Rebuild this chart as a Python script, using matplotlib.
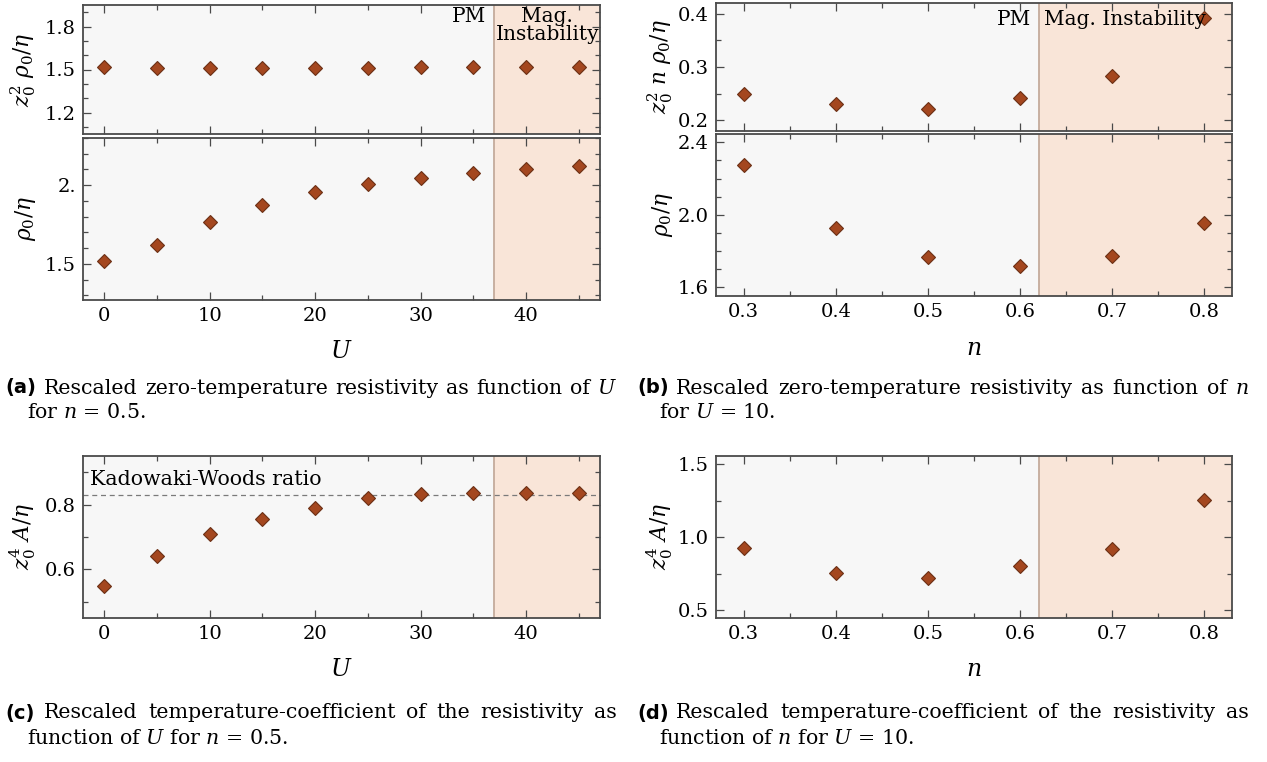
import numpy as np
import matplotlib
matplotlib.use("Agg")
import matplotlib.pyplot as plt
from matplotlib.ticker import MultipleLocator, FixedLocator, FixedFormatter

# data
U = [0, 5, 10, 15, 20, 25, 30, 35, 40, 45]
zrho_U = [1.52, 1.51, 1.51, 1.51, 1.51, 1.51, 1.52, 1.52, 1.52, 1.52]
rho_U = [1.517, 1.617, 1.767, 1.877, 1.956, 2.008, 2.047, 2.076, 2.100, 2.119]
A_U = [0.548, 0.640, 0.710, 0.757, 0.790, 0.821, 0.834, 0.835, 0.836, 0.836]

n = [0.3, 0.4, 0.5, 0.6, 0.7, 0.8]
zrho_n = [0.250, 0.231, 0.221, 0.241, 0.283, 0.391]
rho_n = [2.275, 1.926, 1.767, 1.717, 1.771, 1.952]
A_n = [0.927, 0.757, 0.720, 0.802, 0.920, 1.252]

U_boundary = 37
n_boundary = 0.62
kw_ratio = 0.83

captions = {
    "a": ("Rescaled zero-temperature resistivity as function of $U$", "for $n$ = 0.5."),
    "b": ("Rescaled zero-temperature resistivity as function of $n$", "for $U$ = 10."),
    "c": ("Rescaled temperature-coefficient of the resistivity as", "function of $U$ for $n$ = 0.5."),
    "d": ("Rescaled temperature-coefficient of the resistivity as", "function of $n$ for $U$ = 10."),
}

plt.rcParams["font.family"] = "DejaVu Serif"
plt.rcParams["mathtext.fontset"] = "dejavuserif"

W, H = 1267, 762
fig = plt.figure(figsize=(W / 100, H / 100), dpi=100)

PM_BG = "#f7f7f7"
MAG_BG = "#f9e5d8"
SPINE = "#4a4a4a"
FILL = "#a4471f"
EDGE = "#6b3015"
TICK_FS = 14
YLAB_FS = 15.5
XLAB_FS = 17
CAP_FS = 14.8


def px_axes(left, top, right, bottom):
    return fig.add_axes([left / W, 1 - bottom / H, (right - left) / W, (bottom - top) / H])


def style(ax, xlim, ylim, boundary, xmaj, xmin, ymaj, ymin, xlabels=True, ylab_x=-0.087):
    ax.set_facecolor(PM_BG)
    ax.set_xlim(*xlim)
    ax.set_ylim(*ylim)
    ax.axvspan(boundary, xlim[1], color=MAG_BG, lw=0, zorder=0)
    ax.axvline(boundary, color="#c4ab9c", lw=1.3, zorder=1)
    ax.xaxis.set_major_locator(MultipleLocator(xmaj))
    ax.xaxis.set_minor_locator(MultipleLocator(xmin))
    if ymaj is not None:
        ax.yaxis.set_major_locator(MultipleLocator(ymaj))
    ax.yaxis.set_minor_locator(MultipleLocator(ymin))
    ax.tick_params(which="both", direction="in", top=True, right=True,
                   color=SPINE, labelsize=TICK_FS, width=0.9)
    ax.tick_params(which="major", length=5.5, pad=5)
    ax.tick_params(which="minor", length=3.5)
    if not xlabels:
        ax.tick_params(labelbottom=False)
    for s in ax.spines.values():
        s.set_color(SPINE)
        s.set_linewidth(1.3)
    ax.yaxis.set_label_coords(ylab_x, 0.5)


def points(ax, x, y):
    ax.plot(x, y, ls="none", marker="D", ms=7.5, mfc=FILL, mec=EDGE, mew=0.8, zorder=3)


# (a)
ax = px_axes(83, 5, 600, 134)
style(ax, (-2, 47), (1.05, 1.95), U_boundary, 10, 5, 0.3, 0.1, xlabels=False)
ax.set_yticks([1.2, 1.5, 1.8])
points(ax, U, zrho_U)
ax.set_ylabel(r"$z_0^2\ \rho_0/\eta$", fontsize=YLAB_FS)
ax.text(36.2, 1.935, "PM", ha="right", va="top", fontsize=14.5)
ax.text(42.0, 1.935, "Mag.\nInstability", ha="center", va="top", fontsize=14.5, linespacing=0.95)

ax = px_axes(83, 138, 600, 300)
style(ax, (-2, 47), (1.27, 2.30), U_boundary, 10, 5, None, 0.1)
ax.yaxis.set_major_locator(FixedLocator([1.5, 2.0]))
ax.yaxis.set_major_formatter(FixedFormatter(["1.5", "2."]))
points(ax, U, rho_U)
ax.set_ylabel(r"$\rho_0/\eta$", fontsize=YLAB_FS)
ax.set_xlabel(r"$U$", fontsize=XLAB_FS)
ax.xaxis.set_label_coords(0.5, -0.25)

# (b)
ax = px_axes(716, 3, 1232, 131)
style(ax, (0.27, 0.83), (0.18, 0.42), n_boundary, 0.1, 0.05, 0.1, 0.05, xlabels=False, ylab_x=-0.08)
points(ax, n, zrho_n)
ax.set_ylabel(r"$z_0^2\ n\ \rho_0/\eta$", fontsize=YLAB_FS)
ax.text(0.612, 0.407, "PM", ha="right", va="top", fontsize=14.5)
ax.text(0.626, 0.407, "Mag. Instability", ha="left", va="top", fontsize=14.5)

ax = px_axes(716, 134, 1232, 296)
style(ax, (0.27, 0.83), (1.548, 2.447), n_boundary, 0.1, 0.05, 0.4, 0.1, ylab_x=-0.08)
ax.yaxis.set_major_locator(FixedLocator([1.6, 2.0, 2.4]))
ax.yaxis.set_major_formatter(FixedFormatter(["1.6", "2.0", "2.4"]))
points(ax, n, rho_n)
ax.set_ylabel(r"$\rho_0/\eta$", fontsize=YLAB_FS)
ax.set_xlabel(r"$n$", fontsize=XLAB_FS)
ax.xaxis.set_label_coords(0.5, -0.25)

# (c)
ax = px_axes(83, 456, 600, 618)
style(ax, (-2, 47), (0.45, 0.95), U_boundary, 10, 5, 0.2, 0.1)
ax.axhline(kw_ratio, color="#7a7a7a", lw=0.9, ls=(0, (4, 3)), zorder=2)
points(ax, U, A_U)
ax.text(-1.3, 0.848, "Kadowaki-Woods ratio", ha="left", va="bottom", fontsize=14.8)
ax.set_ylabel(r"$z_0^4\ A/\eta$", fontsize=YLAB_FS)
ax.set_xlabel(r"$U$", fontsize=XLAB_FS)
ax.xaxis.set_label_coords(0.5, -0.25)

# (d)
ax = px_axes(716, 456, 1232, 618)
style(ax, (0.27, 0.83), (0.448, 1.555), n_boundary, 0.1, 0.05, 0.5, 0.25, ylab_x=-0.08)
points(ax, n, A_n)
ax.set_ylabel(r"$z_0^4\ A/\eta$", fontsize=YLAB_FS)
ax.set_xlabel(r"$n$", fontsize=XLAB_FS)
ax.xaxis.set_label_coords(0.5, -0.25)

# captions, first line justified like the LaTeX subcaption
renderer = fig.canvas.get_renderer()


def justify(words, x0, x1, y):
    texts = [fig.text(0, y, w, fontsize=CAP_FS, va="center", ha="left") for w in words]
    widths = [t.get_window_extent(renderer).width for t in texts]
    gap = (x1 - x0 - sum(widths)) / (len(words) - 1)
    x = x0
    for t, w in zip(texts, widths):
        t.set_x(x / W)
        x += w + gap


for key, (lx, ly) in {"a": (5, 388), "b": (637, 388), "c": (5, 713), "d": (637, 713)}.items():
    line1, line2 = captions[key]
    fig.text(lx / W, 1 - ly / H, "(" + key + ")", fontsize=CAP_FS - 0.8, family="DejaVu Sans",
             weight="bold", va="center", ha="left")
    justify(line1.split(" "), lx + 39, lx + 612, 1 - ly / H)
    fig.text((lx + 22) / W, 1 - (ly + 25) / H, line2, fontsize=CAP_FS, va="center", ha="left")

fig.savefig("out.png", dpi=100)
